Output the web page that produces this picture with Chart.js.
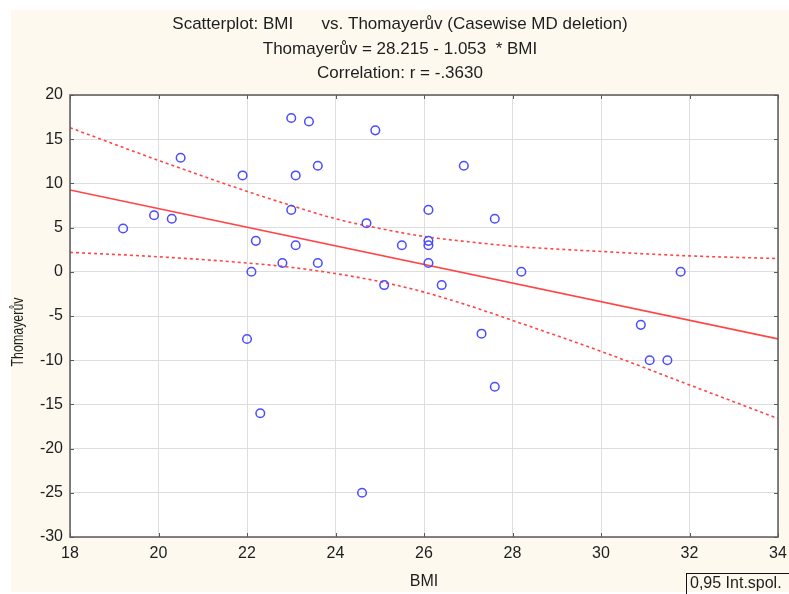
<!DOCTYPE html>
<html><head><meta charset="utf-8">
<script src="https://cdn.jsdelivr.net/npm/chart.js@4/dist/chart.umd.min.js"></script>
<style>html,body{margin:0;padding:0;background:#ffffff;}canvas{display:block;}</style>
</head><body>
<canvas id="c" width="789" height="594"></canvas>
<script>
const titleLines = ["Scatterplot: BMI      vs. Thomayerův (Casewise MD deletion)", "Thomayerův = 28.215 - 1.053  * BMI", "Correlation: r = -.3630"];
const xAxisTitle = "BMI";
const yAxisTitle = "Thomayerův";
const legendLabel = "0,95 Int.spol.";

const bmi = [19.2, 19.9, 20.3, 20.5, 21.9, 22.0, 22.1, 22.2, 22.3, 22.8, 23.0, 23.0, 23.1, 23.1, 23.4, 23.6, 23.6, 24.6, 24.7, 24.9, 25.1, 25.5, 26.1, 26.1, 26.1, 26.1, 26.4, 26.9, 27.3, 27.6, 27.6, 28.2, 30.9, 31.1, 31.5, 31.8];
const thomayeruv = [4.9, 6.4, 6.0, 12.9, 10.9, -7.6, 0, 3.5, -16, 1, 17.4, 7, 10.9, 3, 17, 12, 1, -25, 5.5, 16, -1.5, 3, 7, 3.5, 3, 1, -1.5, 12, -7, 6, -13, 0, -6, -10, -10, 0];

const fitX = [18, 34];
const fitY = [9.261, -7.587];

const bandX = [18, 20, 22, 23, 24, 25, 26, 27, 28, 30, 32, 34];
const bandUpper = [16.3, 12.6, 9.1, 7.5, 6.0, 4.9, 4.0, 3.4, 2.9, 2.3, 1.8, 1.5];
const bandLower = [2.2, 1.7, 1.0, 0.5, -0.2, -1.1, -2.3, -3.8, -5.5, -9.0, -12.8, -16.6];

const xTicks = [18, 20, 22, 24, 26, 28, 30, 32, 34];
const yTicks = [-30, -25, -20, -15, -10, -5, 0, 5, 10, 15, 20];

const FONT = '"Liberation Sans", Arial, sans-serif';
const CREAM = '#fdf9ef';
const RED = '#ff4545';
const BLUE = '#4b4bff';

const pts = (xs, ys) => xs.map((x, i) => ({x: x, y: ys[i]}));

const decor = {
  id: 'decor',
  beforeDraw(chart) {
    const ctx = chart.ctx, a = chart.chartArea;
    ctx.save();
    ctx.fillStyle = '#ffffff';
    ctx.fillRect(0, 0, chart.width, chart.height);
    ctx.fillStyle = CREAM;
    ctx.fillRect(11, 10, chart.width - 11, 582);
    ctx.fillStyle = '#ffffff';
    ctx.fillRect(a.left, a.top, a.right - a.left, a.bottom - a.top);
    ctx.restore();
  },
  afterDraw(chart) {
    const ctx = chart.ctx, a = chart.chartArea;
    const xs = chart.scales.x, ys = chart.scales.y;
    ctx.save();
    ctx.strokeStyle = '#5a5a5a';
    ctx.lineWidth = 1.5;
    ctx.strokeRect(a.left, a.top, a.right - a.left, a.bottom - a.top);
    ctx.lineWidth = 1;
    ctx.beginPath();
    xTicks.forEach(v => {
      const p = Math.round(xs.getPixelForValue(v)) + 0.5;
      ctx.moveTo(p, a.bottom); ctx.lineTo(p, a.bottom - 4);
      ctx.moveTo(p, a.top); ctx.lineTo(p, a.top + 4);
    });
    yTicks.forEach(v => {
      const p = Math.round(ys.getPixelForValue(v)) + 0.5;
      ctx.moveTo(a.left, p); ctx.lineTo(a.left + 4, p);
      ctx.moveTo(a.right, p); ctx.lineTo(a.right - 4, p);
    });
    ctx.stroke();
    ctx.fillStyle = '#1e1e1e';
    ctx.font = '17px ' + FONT;
    ctx.textAlign = 'center';
    ctx.textBaseline = 'middle';
    const tys = [24, 49, 73.5];
    titleLines.forEach((t, i) => ctx.fillText(t, 400, tys[i]));
    ctx.font = '16px ' + FONT;
    ctx.fillText(xAxisTitle, (a.left + a.right) / 2, 582);
    ctx.save();
    ctx.translate(19, 332);
    ctx.rotate(-Math.PI / 2);
    ctx.font = '16px ' + FONT;
    const w = ctx.measureText(yAxisTitle).width;
    ctx.scale(69 / w, 1);
    ctx.fillText(yAxisTitle, 0, 0);
    ctx.restore();
    ctx.strokeStyle = '#111';
    ctx.lineWidth = 1;
    ctx.strokeRect(686.5, 573.5, 110, 30);
    ctx.textAlign = 'left';
    ctx.font = '16px ' + FONT;
    ctx.fillText(legendLabel, 690, 584);
    ctx.restore();
  }
};

new Chart(document.getElementById('c'), {
  type: 'scatter',
  data: {
    datasets: [
      {
        label: 'data',
        data: pts(bmi, thomayeruv),
        showLine: false,
        pointStyle: 'circle',
        pointRadius: 4.3,
        pointBorderWidth: 1.5,
        pointBorderColor: BLUE,
        pointBackgroundColor: 'rgba(0,0,0,0)',
        order: 1
      },
      {
        label: 'fit',
        data: pts(fitX, fitY),
        showLine: true,
        borderColor: RED,
        borderWidth: 1.6,
        pointRadius: 0,
        order: 2
      },
      {
        label: 'upper',
        data: pts(bandX, bandUpper),
        showLine: true,
        borderColor: RED,
        borderWidth: 1.6,
        borderDash: [3, 3],
        cubicInterpolationMode: 'monotone',
        pointRadius: 0,
        order: 3
      },
      {
        label: 'lower',
        data: pts(bandX, bandLower),
        showLine: true,
        borderColor: RED,
        borderWidth: 1.6,
        borderDash: [3, 3],
        cubicInterpolationMode: 'monotone',
        pointRadius: 0,
        order: 3
      }
    ]
  },
  options: {
    responsive: false,
    animation: false,
    devicePixelRatio: 1,
    layout: {padding: {top: 95, right: 11, left: 0, bottom: 0}},
    plugins: {legend: {display: false}, tooltip: {enabled: false}, title: {display: false}},
    scales: {
      x: {
        type: 'linear', min: 18, max: 34,
        afterBuildTicks: s => { s.ticks = xTicks.map(v => ({value: v})); },
        afterFit: s => { s.height = 57; s.paddingLeft = 0; s.paddingRight = 0; },
        grid: {color: '#dedede', lineWidth: 1, drawTicks: false},
        border: {display: false},
        ticks: {color: '#1e1e1e', font: {family: FONT, size: 16}, padding: 7, maxRotation: 0, autoSkip: false}
      },
      y: {
        type: 'linear', min: -30, max: 20,
        afterBuildTicks: s => { s.ticks = yTicks.map(v => ({value: v})); },
        afterFit: s => { s.width = 70; s.paddingTop = 0; s.paddingBottom = 0; },
        grid: {color: '#dedede', lineWidth: 1, drawTicks: false},
        border: {display: false},
        ticks: {color: '#1e1e1e', font: {family: FONT, size: 16}, padding: 7, autoSkip: false}
      }
    }
  },
  plugins: [decor]
});
</script>
</body></html>
